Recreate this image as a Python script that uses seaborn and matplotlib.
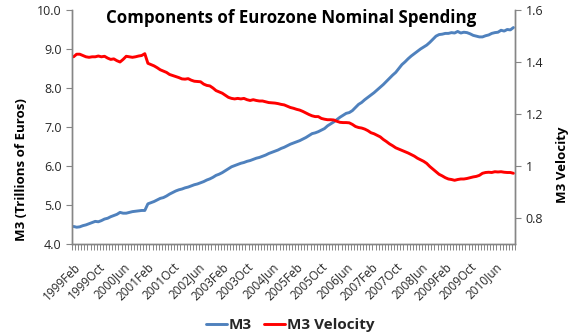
import numpy as np
import pandas as pd
import matplotlib
matplotlib.use("Agg")
import matplotlib.pyplot as plt
import seaborn as sns

months = ["Jan", "Feb", "Mar", "Apr", "May", "Jun", "Jul", "Aug", "Sep", "Oct", "Nov", "Dec"]
periods = [f"{y}{m}" for y in range(1999, 2011) for m in months][1:]  # 1999Feb .. 2010Dec

m3 = [4.45, 4.43, 4.44, 4.47, 4.49, 4.52, 4.55, 4.58, 4.57, 4.60, 4.64,
      4.66, 4.70, 4.73, 4.76, 4.81, 4.79, 4.79, 4.81, 4.83, 4.84, 4.85, 4.86,
      4.86, 5.03, 5.06, 5.09, 5.13, 5.17, 5.19, 5.23, 5.28, 5.32, 5.36, 5.39,
      5.41, 5.44, 5.46, 5.49, 5.52, 5.54, 5.57, 5.60, 5.64, 5.67, 5.71, 5.76,
      5.79, 5.83, 5.88, 5.93, 5.98, 6.01, 6.04, 6.07, 6.09, 6.12, 6.14, 6.17,
      6.20, 6.22, 6.25, 6.28, 6.32, 6.35, 6.38, 6.41, 6.45, 6.48, 6.52, 6.56,
      6.59, 6.62, 6.65, 6.69, 6.73, 6.78, 6.83, 6.85, 6.88, 6.92, 6.96, 7.03,
      7.08, 7.13, 7.19, 7.25, 7.30, 7.35, 7.37, 7.42, 7.50, 7.58, 7.63, 7.70,
      7.76, 7.82, 7.88, 7.95, 8.02, 8.09, 8.17, 8.25, 8.33, 8.40, 8.50, 8.60,
      8.67, 8.75, 8.82, 8.88, 8.94, 9.00, 9.05, 9.10, 9.17, 9.25, 9.33, 9.37,
      9.38, 9.40, 9.40, 9.42, 9.41, 9.45, 9.41, 9.43, 9.42, 9.39, 9.35, 9.33,
      9.31, 9.31, 9.34, 9.36, 9.40, 9.42, 9.43, 9.48, 9.46, 9.50, 9.49, 9.55]

velocity = [1.420, 1.430, 1.430, 1.425, 1.420, 1.418, 1.420, 1.420, 1.423, 1.420, 1.422,
            1.415, 1.410, 1.412, 1.405, 1.400, 1.410, 1.422, 1.420, 1.418, 1.420, 1.423, 1.425,
            1.432, 1.395, 1.390, 1.385, 1.378, 1.370, 1.365, 1.360, 1.352, 1.348, 1.344, 1.340,
            1.335, 1.334, 1.336, 1.330, 1.326, 1.325, 1.324, 1.315, 1.310, 1.308, 1.300, 1.290,
            1.285, 1.280, 1.272, 1.264, 1.260, 1.258, 1.260, 1.258, 1.260, 1.255, 1.252, 1.255,
            1.252, 1.250, 1.250, 1.247, 1.244, 1.243, 1.242, 1.240, 1.237, 1.235, 1.230, 1.225,
            1.222, 1.218, 1.215, 1.210, 1.204, 1.198, 1.193, 1.190, 1.190, 1.183, 1.180, 1.178,
            1.178, 1.177, 1.172, 1.168, 1.167, 1.167, 1.166, 1.160, 1.152, 1.148, 1.146, 1.142,
            1.136, 1.128, 1.124, 1.118, 1.112, 1.102, 1.094, 1.085, 1.078, 1.070, 1.065, 1.060,
            1.055, 1.050, 1.044, 1.038, 1.030, 1.024, 1.018, 1.010, 0.998, 0.988, 0.978, 0.968,
            0.962, 0.955, 0.950, 0.948, 0.945, 0.948, 0.950, 0.950, 0.952, 0.955, 0.958, 0.960,
            0.964, 0.972, 0.975, 0.976, 0.975, 0.978, 0.977, 0.978, 0.976, 0.975, 0.975, 0.972]

left_ticks = [4.0, 5.0, 6.0, 7.0, 8.0, 9.0, 10.0]
right_ticks = [0.8, 1.0, 1.2, 1.4, 1.6]
right_tick_labels = ["0.8", "1", "1.2", "1.4", "1.6"]

df = pd.DataFrame({"period": periods, "idx": np.arange(len(periods)),
                   "M3": m3, "M3 Velocity": velocity})

sns.set_style("white")
plt.rcParams["font.family"] = ["Open Sans", "DejaVu Sans"]

BLUE = "#4F81BD"
RED = "#FF0000"
GRAY = "#868686"
TXT = "#262626"

fig = plt.figure(figsize=(5.8, 3.36), dpi=100)
ax = fig.add_axes([72 / 580, 1 - 244 / 336, (515 - 72) / 580, (244 - 10) / 336])
ax2 = ax.twinx()

sns.lineplot(data=df, x="idx", y="M3", ax=ax, color=BLUE, linewidth=2.1, label="M3", legend=False)
sns.lineplot(data=df, x="idx", y="M3 Velocity", ax=ax2, color=RED, linewidth=2.1,
             label="M3 Velocity", legend=False)

n = len(periods)
ax.set_xlim(-0.5, n - 0.5)
ax.set_ylim(4.0, 10.0)
ax2.set_ylim(0.7, 1.6)

ax.set_yticks(left_ticks)
ax.set_yticklabels([f"{v:.1f}" for v in left_ticks])
ax2.set_yticks(right_ticks)
ax2.set_yticklabels(right_tick_labels)

major = list(range(0, n, 8))
ax.set_xticks(major)
ax.set_xticklabels([periods[i] for i in major], rotation=45, ha="right", rotation_mode="anchor")
ax.set_xticks(np.arange(-0.5, n, 1), minor=True)
ax.tick_params(axis="x", which="major", length=0, pad=12, labelsize=8.5, labelcolor=TXT)
ax.tick_params(axis="x", which="minor", length=4, width=0.7, color=GRAY, direction="out", bottom=True)
ax.tick_params(axis="y", length=4, width=0.8, color=GRAY, labelsize=9, labelcolor=TXT, direction="out", left=True)
ax2.tick_params(axis="y", length=4, width=0.8, color=GRAY, labelsize=9, labelcolor=TXT, direction="out", right=True)

for a in (ax, ax2):
    a.spines["top"].set_visible(False)
    for s in ("left", "right", "bottom"):
        a.spines[s].set_color(GRAY)
        a.spines[s].set_linewidth(1.0)

ax.set_xlabel("")
ax.set_ylabel("M3 (Trillions of Euros)", fontsize=9.5, fontweight="bold", color="black")
ax2.set_ylabel("M3 Velocity", fontsize=9.5, fontweight="bold", color="black")
ax.yaxis.set_label_coords((28 - 72) / 443, (244 - 170) / 234)
ax2.yaxis.set_label_coords((556 - 72) / 443, (244 - 165) / 234)

fig.text(0.502, 1 - 18 / 336, "Components of Eurozone Nominal Spending", ha="center", va="center",
         fontsize=12.2, fontweight="bold", color="black")

handles = ax.get_lines()[:1] + ax2.get_lines()[:1]
fig.legend(handles, ["M3", "M3 Velocity"], loc="center", bbox_to_anchor=(0.5, 1 - 325 / 336),
           ncol=2, frameon=False, prop={"weight": "bold", "size": 11},
           handlelength=1.4, handletextpad=0.1, columnspacing=0.8)

fig.savefig("out.png", dpi=100)
